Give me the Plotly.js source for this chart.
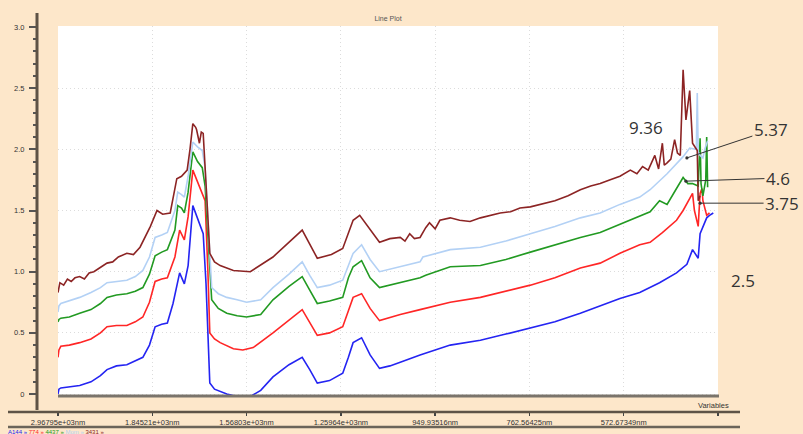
<!DOCTYPE html>
<html><head><meta charset="utf-8">
<script src="https://cdn.plot.ly/plotly-3.0.1.min.js"></script>
<style>html,body{margin:0;padding:0;background:#FDE7CA;}#chart{width:803px;height:434px;}</style>
</head><body><div id="chart"></div>
<script>
// x = variable index, y = value
const tickIndex = [0, 100, 200, 300, 400, 500, 600, 700];
const tickLabels = ["2.96795e+03nm", "1.84521e+03nm", "1.56803e+03nm", "1.25964e+03nm", "949.93516nm", "762.56425nm", "572.67349nm", ""];
const seriesNames = ["2.5", "3.75", "4.6", "5.37", "9.36"];

const blue = [[0,0.00],[1,0.04],[3,0.05],[12,0.06],[23,0.07],[35,0.10],[45,0.15],[52,0.20],[62,0.23],[73,0.24],[82,0.27],[90,0.30],[97,0.40],[103,0.55],[110,0.57],[116,0.58],[122,0.74],[129,0.99],[134,0.90],[138,1.05],[143,1.54],[147,1.45],[151,1.37],[154,1.31],[157,0.90],[161,0.09],[166,0.04],[172,0.02],[179,0.00],[190,-0.02],[204,-0.02],[215,0.03],[228,0.14],[245,0.24],[259,0.30],[267,0.20],[275,0.09],[288,0.11],[302,0.17],[308,0.30],[313,0.42],[322,0.46],[331,0.32],[341,0.21],[352,0.23],[363,0.26],[384,0.32],[416,0.40],[448,0.44],[475,0.49],[501,0.54],[527,0.59],[554,0.66],[575,0.72],[596,0.78],[617,0.83],[638,0.91],[656,0.99],[667,1.06],[673,1.18],[679,1.11],[681,1.31],[684,1.36],[688,1.44],[691,1.46],[695,1.48]];

const red = [[0,0.30],[1,0.36],[3,0.39],[12,0.40],[23,0.42],[35,0.45],[45,0.50],[52,0.55],[62,0.56],[73,0.56],[82,0.59],[90,0.63],[97,0.75],[103,0.92],[110,0.94],[116,0.95],[124,1.12],[129,1.34],[134,1.26],[138,1.45],[143,1.83],[147,1.75],[151,1.67],[156,1.58],[159,1.00],[161,0.50],[166,0.45],[172,0.42],[186,0.37],[196,0.36],[207,0.38],[228,0.50],[259,0.69],[267,0.58],[275,0.48],[288,0.50],[302,0.55],[308,0.68],[313,0.79],[322,0.82],[331,0.70],[341,0.60],[363,0.65],[384,0.69],[416,0.75],[448,0.79],[475,0.84],[501,0.89],[527,0.95],[554,1.03],[575,1.07],[596,1.15],[617,1.22],[628,1.24],[641,1.32],[656,1.42],[663,1.50],[667,1.56],[670,1.60],[673,1.64],[675,1.50],[679,1.37],[681,1.64],[683,1.68],[684,1.58],[688,1.46],[691,1.48]];

const green = [[0,0.59],[1,0.61],[3,0.62],[12,0.63],[23,0.66],[35,0.69],[45,0.74],[52,0.79],[62,0.81],[73,0.82],[82,0.84],[90,0.87],[97,0.98],[103,1.13],[110,1.16],[116,1.18],[124,1.34],[127,1.54],[131,1.52],[134,1.48],[138,1.65],[143,1.98],[148,1.90],[153,1.85],[156,1.70],[158,1.45],[163,0.77],[170,0.70],[179,0.66],[190,0.64],[200,0.63],[215,0.65],[228,0.77],[245,0.88],[259,0.96],[267,0.85],[275,0.74],[288,0.76],[302,0.79],[308,0.95],[313,1.04],[322,1.09],[331,0.95],[341,0.87],[363,0.91],[384,0.95],[390,0.97],[416,1.04],[448,1.05],[475,1.10],[501,1.16],[527,1.22],[554,1.28],[575,1.32],[596,1.39],[617,1.46],[628,1.49],[638,1.58],[646,1.55],[656,1.68],[663,1.77],[668,1.72],[673,1.72],[679,1.70],[681,2.09],[682,1.72],[684,1.62],[687,1.75],[688,2.10],[689,1.69]];

const lightBlue = [[0,0.67],[1,0.72],[3,0.74],[12,0.76],[23,0.79],[35,0.83],[45,0.87],[52,0.91],[62,0.92],[73,0.93],[82,0.96],[90,1.01],[97,1.12],[103,1.28],[110,1.30],[116,1.32],[124,1.50],[127,1.65],[131,1.63],[134,1.61],[138,1.78],[143,2.06],[148,2.02],[153,1.99],[156,1.85],[158,1.58],[163,0.87],[170,0.82],[179,0.79],[190,0.77],[200,0.75],[215,0.77],[228,0.87],[245,0.98],[259,1.08],[267,0.97],[275,0.87],[288,0.89],[302,0.93],[308,1.05],[313,1.15],[322,1.22],[331,1.10],[341,1.00],[363,1.04],[384,1.08],[387,1.12],[416,1.18],[448,1.20],[475,1.25],[501,1.31],[527,1.37],[554,1.44],[575,1.48],[596,1.55],[617,1.61],[628,1.67],[646,1.80],[663,1.94],[670,2.01],[677,2.00],[678,2.46],[679,1.98],[681,1.95],[684,1.93],[686,2.00],[689,2.07]];

const darkRed = [[0,0.83],[2,0.91],[6,0.89],[10,0.94],[14,0.92],[18,0.95],[23,0.96],[28,0.94],[33,0.99],[38,1.00],[44,1.03],[52,1.07],[58,1.08],[64,1.12],[73,1.15],[80,1.14],[87,1.20],[92,1.28],[98,1.37],[105,1.50],[111,1.47],[119,1.48],[126,1.76],[131,1.78],[137,1.83],[140,2.00],[143,2.21],[146,2.18],[147,2.16],[150,2.05],[152,2.14],[154,2.13],[156,1.90],[158,1.58],[161,1.15],[166,1.08],[172,1.05],[186,1.01],[204,1.00],[228,1.12],[259,1.34],[275,1.11],[290,1.14],[302,1.19],[313,1.42],[320,1.46],[341,1.24],[352,1.27],[363,1.28],[368,1.25],[373,1.31],[378,1.27],[384,1.28],[390,1.36],[394,1.40],[400,1.35],[405,1.42],[416,1.44],[426,1.42],[437,1.41],[448,1.44],[458,1.46],[469,1.48],[480,1.49],[490,1.52],[501,1.53],[512,1.55],[527,1.58],[541,1.62],[554,1.67],[565,1.70],[575,1.72],[585,1.75],[596,1.78],[607,1.83],[614,1.80],[620,1.86],[626,1.83],[633,1.95],[637,1.84],[641,2.05],[643,1.87],[646,1.89],[650,1.92],[654,2.08],[657,1.97],[660,1.95],[663,2.65],[666,2.24],[670,2.48],[673,2.05],[678,1.99],[679,1.58],[681,1.62]];

const colors = ["#2424f2", "#ff2626", "#229a22", "#b3d1f5", "#8c2424"];
const allSeries = [blue, red, green, lightBlue, darkRed];

const traces = allSeries.map((s, k) => ({
  type: "scatter", mode: "lines", name: seriesNames[k],
  x: s.map(p => p[0]), y: s.map(p => p[1]),
  line: {color: colors[k], width: 1.6}
}));

// pixel helpers for decorations (plot area: l=37, r=85, t=26, b=22)
const px = x => (x - 37) / 681;
const py = y => (412 - y) / 386;

const axisCol = "#5e5346";
const numFont = {size: 17, color: "#333", family: "Open Sans, sans-serif"};
const layout = {
  width: 803, height: 434,
  paper_bgcolor: "#FDE7CA", plot_bgcolor: "#ffffff",
  margin: {l: 37, r: 85, t: 26, b: 22},
  showlegend: false,
  font: {family: "Liberation Sans, Arial, sans-serif", color: "#333"},
  title: {text: "Line Plot", font: {size: 7, color: "#555555"}, x: 388/803, xanchor: "center", y: 1 - 19/434, yanchor: "middle", xref: "container", yref: "container"},
  xaxis: {
    domain: [21/681, 1], range: [0, 700], anchor: "free", position: 0,
    tickvals: tickIndex, ticktext: tickLabels,
    ticks: "outside", ticklen: 3, tickwidth: 1.5, tickcolor: "#444",
    showline: false, zeroline: false,
    showgrid: true, gridcolor: "#dcdcdc", griddash: "1px,3px", gridwidth: 1,
    tickfont: {size: 7.5, color: "#333"}
  },
  yaxis: {
    domain: [16/386, 1], range: [-0.016, 3.008], anchor: "free", position: 0,
    tickvals: [0, 0.5, 1, 1.5, 2, 2.5, 3], ticktext: ["0", "0.5", "1.0", "1.5", "2.0", "2.5", "3.0"],
    ticks: "outside", ticklen: 8, tickwidth: 2, tickcolor: "#555",
    minor: {dtick: 0.1, tick0: 0, ticks: "outside", ticklen: 4, tickwidth: 2, tickcolor: "#555", showgrid: false},
    showline: false, zeroline: false,
    showgrid: true, gridcolor: "#dcdcdc", griddash: "1px,3px", gridwidth: 1,
    tickfont: {size: 7.5, color: "#333"}, ticklabelstandoff: 3
  },
  shapes: [
    {type: "line", xref: "paper", yref: "paper", x0: 0, x1: 0, y0: py(410), y1: py(13), line: {color: axisCol, width: 3}},
    {type: "line", xref: "paper", yref: "paper", x0: px(8), x1: px(740), y0: 0, y1: 0, line: {color: axisCol, width: 2.5}},
    {type: "line", xref: "paper", yref: "paper", x0: px(8), x1: px(740), y0: py(427), y1: py(427), line: {color: "#6b6459", width: 2.5}},
    {type: "line", xref: "paper", yref: "paper", x0: px(58), x1: px(719), y0: py(396), y1: py(396), line: {color: "#7a746b", width: 3}}
  ],
  annotations: [
    {xref: "paper", yref: "paper", x: px(713), y: py(405), xanchor: "center", yanchor: "middle", text: "Variables", showarrow: false, font: {size: 7.5, color: "#333"}},
    {xref: "paper", yref: "paper", x: px(646), y: py(127), xanchor: "center", yanchor: "middle", text: "9.36", showarrow: false, font: numFont},
    {xref: "paper", yref: "paper", x: px(743), y: py(280), xanchor: "center", yanchor: "middle", text: "2.5", showarrow: false, font: numFont},
    {x: 667, y: 1.93, ax: 84, ay: -28, xanchor: "center", yanchor: "middle", text: "5.37", showarrow: true, arrowhead: 6, arrowsize: 0.8, arrowwidth: 1, arrowcolor: "#333", font: numFont},
    {x: 666, y: 1.74, ax: 92, ay: -3, xanchor: "center", yanchor: "middle", text: "4.6", showarrow: true, arrowhead: 6, arrowsize: 0.8, arrowwidth: 1, arrowcolor: "#333", font: numFont},
    {x: 681, y: 1.56, ax: 82, ay: 0, xanchor: "center", yanchor: "middle", text: "3.75", showarrow: true, arrowhead: 6, arrowsize: 0.8, arrowwidth: 1, arrowcolor: "#333", font: numFont},
    {xref: "paper", yref: "paper", x: px(6), y: py(431.5), xanchor: "left", yanchor: "middle", showarrow: false,
     text: '<span style="color:#2424f2">A144 »</span> <span style="color:#ff2626">774 »</span> <span style="color:#229a22">4437 »</span> <span style="color:#b3d1f5">Mom »</span> <span style="color:#8c2424">3431 »</span>',
     font: {size: 6}}
  ]
};

Plotly.newPlot("chart", traces, layout, {staticPlot: true, displayModeBar: false});
</script>
</body></html>
